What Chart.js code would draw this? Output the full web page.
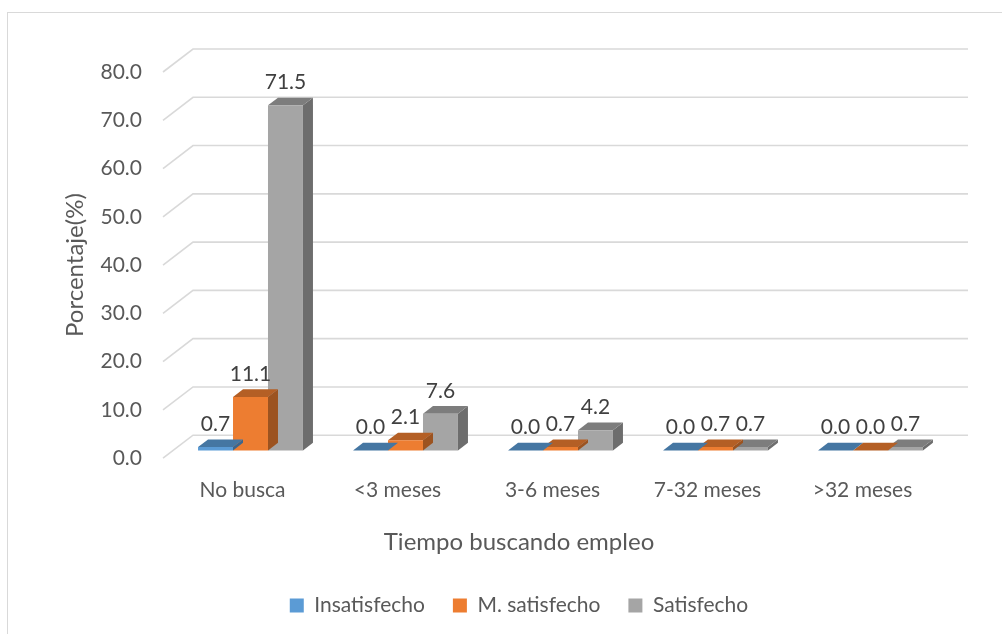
<!DOCTYPE html>
<html>
<head>
<meta charset="utf-8">
<script src="https://cdn.jsdelivr.net/npm/chart.js@4.4.1/dist/chart.umd.min.js"></script>
<style>
  html, body { margin: 0; padding: 0; background: #fff; }
  #wrap { width: 1002px; height: 634px; }
</style>
</head>
<body>
<div id="wrap"><canvas id="chart" width="1002" height="634"></canvas></div>
<script>
const categories = ['No busca', '<3 meses', '3-6 meses', '7-32 meses', '>32 meses'];
const insatisfecho = [0.7, 0.0, 0.0, 0.0, 0.0];
const mSatisfecho = [11.1, 2.1, 0.7, 0.7, 0.0];
const satisfecho = [71.5, 7.6, 4.2, 0.7, 0.7];
const yTicks = [0, 10, 20, 30, 40, 50, 60, 70, 80];

const TEXT = '#595959';
const GRID = '#d9d9d9';
// depth of the back wall and of the bars (Excel 3D look)
const WALL = { x: 30, y: -23 };
const BAR = { x: 10, y: -7.7 };

function shade(hex, f) {
  const n = parseInt(hex.slice(1), 16);
  const r = Math.round(((n >> 16) & 255) * f);
  const g = Math.round(((n >> 8) & 255) * f);
  const b = Math.round((n & 255) * f);
  return `rgb(${r},${g},${b})`;
}

function series(label, data, color) {
  return {
    label, data,
    backgroundColor: color,
    topColor: shade(color, 0.76),
    sideColor: shade(color, 0.66),
    borderWidth: 0,
    categoryPercentage: 0.677,
    barPercentage: 1,
    clip: false
  };
}

const bars3d = {
  id: 'bars3d',
  beforeDraw(chart) {
    const ctx = chart.ctx;
    ctx.save();
    ctx.fillStyle = '#fff';
    ctx.fillRect(0, 0, chart.width, chart.height);
    ctx.strokeStyle = GRID;
    ctx.lineWidth = 1;
    ctx.strokeRect(7.5, 12.5, chart.width + 20, chart.height + 20);
    ctx.restore();
  },
  beforeDatasetsDraw(chart) {
    const { ctx, chartArea: a, scales: { y } } = chart;
    ctx.save();
    ctx.strokeStyle = GRID;
    ctx.lineWidth = 1.6;
    y.ticks.forEach(t => {
      const py = y.getPixelForValue(t.value);
      ctx.beginPath();
      ctx.moveTo(a.left, py);
      ctx.lineTo(a.left + WALL.x, py + WALL.y);
      ctx.lineTo(a.right + WALL.x, py + WALL.y);
      ctx.stroke();
    });
    ctx.restore();
  },
  beforeDatasetDraw(chart, args) {
    const ctx = chart.ctx;
    const ds = chart.data.datasets[args.index];
    ctx.save();
    ctx.translate(BAR.x, BAR.y);
    args.meta.data.forEach(el => {
      const { x, y, base, width } = el.getProps(['x', 'y', 'base', 'width'], true);
      const l = x - width / 2, r = x + width / 2;
      ctx.fillStyle = ds.sideColor;
      ctx.beginPath();
      ctx.moveTo(r, y);
      ctx.lineTo(r + BAR.x, y + BAR.y);
      ctx.lineTo(r + BAR.x, base + BAR.y);
      ctx.lineTo(r, base);
      ctx.closePath();
      ctx.fill();
      ctx.fillStyle = ds.topColor;
      ctx.beginPath();
      ctx.moveTo(l, y);
      ctx.lineTo(r, y);
      ctx.lineTo(r + BAR.x, y + BAR.y);
      ctx.lineTo(l + BAR.x, y + BAR.y);
      ctx.closePath();
      ctx.fill();
    });
  },
  afterDatasetDraw(chart) {
    chart.ctx.restore();
  },
  afterDatasetsDraw(chart) {
    const ctx = chart.ctx;
    ctx.save();
    ctx.font = '21px Lato';
    ctx.fillStyle = '#404040';
    ctx.textAlign = 'center';
    ctx.textBaseline = 'middle';
    chart.data.datasets.forEach((ds, i) => {
      chart.getDatasetMeta(i).data.forEach((el, j) => {
        const { x, y } = el.getProps(['x', 'y'], true);
        ctx.fillText(ds.data[j].toFixed(1), x + BAR.x, y + BAR.y - 23);
      });
    });
    ctx.restore();
  }
};

Chart.defaults.font.family = 'Lato';
Chart.defaults.color = TEXT;

new Chart(document.getElementById('chart'), {
  type: 'bar',
  data: {
    labels: categories,
    datasets: [
      series('Insatisfecho', insatisfecho, '#5B9BD5'),
      series('M. satisfecho', mSatisfecho, '#ED7D31'),
      series('Satisfecho', satisfecho, '#A5A5A5')
    ]
  },
  options: {
    responsive: false,
    animation: false,
    devicePixelRatio: 1,
    layout: { padding: { left: 100, right: 64, top: 72, bottom: 8 } },
    scales: {
      x: {
        grid: { display: false, drawTicks: false },
        border: { display: false },
        ticks: { font: { size: 21 }, color: TEXT, padding: 19, labelOffset: 2 },
        afterFit(s) { s.height = 44; }
      },
      y: {
        min: yTicks[0],
        max: yTicks[yTicks.length - 1],
        grid: { display: false, drawTicks: false },
        border: { display: false },
        afterBuildTicks(s) { s.ticks = yTicks.map(v => ({ value: v })); },
        ticks: {
          font: { size: 21 }, color: TEXT, padding: 21,
          callback: v => Number(v).toFixed(1)
        },
        title: {
          display: true, text: 'Porcentaje(%)',
          font: { size: 24 }, color: TEXT,
          padding: { top: -39, bottom: 0 }
        },
        afterFit(s) { s.width = 63; }
      }
    },
    plugins: {
      title: {
        display: true,
        position: 'bottom',
        weight: 500,
        text: 'Tiempo buscando empleo',
        font: { size: 24, weight: 'normal' },
        color: TEXT,
        padding: { top: 26, bottom: 10 }
      },
      legend: {
        position: 'bottom',
        labels: { boxWidth: 14, boxHeight: 14, font: { size: 21 }, color: TEXT, padding: 28 }
      },
      tooltip: { enabled: false }
    }
  },
  plugins: [bars3d]
});
</script>
</body>
</html>
